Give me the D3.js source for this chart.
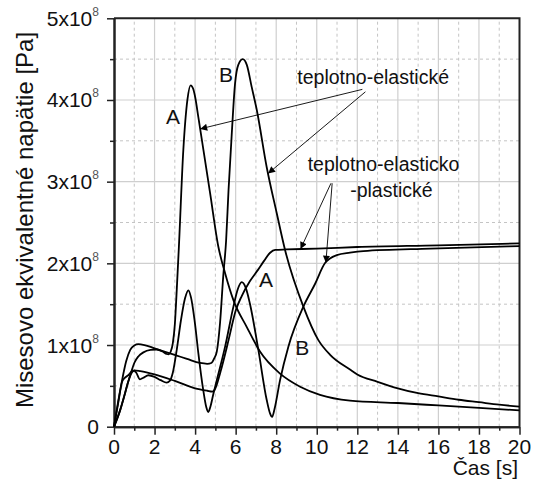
<!DOCTYPE html>
<html><head><meta charset="utf-8">
<script src="https://cdn.jsdelivr.net/npm/d3@7"></script>
<style>
body{margin:0;background:#fff}
svg{display:block}
text{font-family:"Liberation Sans",Arial,sans-serif;fill:#111}
</style>
</head><body>
<svg id="chart" width="539" height="490"></svg>
<script>
// time axis [s] and stress axis [x10^8 Pa]
const xMajor = [0, 2, 4, 6, 8, 10, 12, 14, 16, 18, 20];
const xMinor = [1, 3, 5, 7, 9, 11, 13, 15, 17, 19];
const yMajor = [0, 1, 2, 3, 4, 5];
const yMinor = [0.5, 1.5, 2.5, 3.5, 4.5];
const xLabel = "Čas [s]";
const yLabel = "Misesovo ekvivalentné napätie [Pa]";

// von Mises stress histories, [time s, stress x10^8 Pa]
const elasticA = [[0,0],[0.3,0.2],[0.5,0.37],[0.7,0.55],[0.85,0.67],[1.0,0.78],[1.2,0.86],[1.45,0.91],[1.8,0.94],[2.1,0.945],[2.4,0.92],[2.6,0.89],[2.7,0.885],[2.8,0.92],[2.9,1.02],[3.0,1.25],[3.1,1.7],[3.2,2.2],[3.42,3.39],[3.62,4.0],[3.78,4.18],[3.9,4.14],[4.0,4.04],[4.16,3.79],[4.41,3.39],[4.74,2.86],[5.15,2.2],[5.48,1.88],[5.89,1.55],[6.55,1.22],[7.2,0.92],[8.19,0.65],[9.18,0.49],[10.16,0.39],[11.64,0.32],[14,0.29],[16,0.26],[18,0.23],[20,0.2]];
const elasticB = [[0,0],[0.2,0.3],[0.4,0.57],[0.6,0.8],[0.8,0.94],[1.0,0.995],[1.2,1.01],[1.5,1.0],[2.0,0.96],[2.6,0.91],[3.1,0.87],[3.6,0.83],[4.24,0.78],[4.6,0.77],[4.8,0.78],[4.95,0.84],[5.07,0.92],[5.23,1.27],[5.39,1.85],[5.53,2.28],[5.65,2.9],[5.8,3.55],[5.97,4.2],[6.13,4.43],[6.35,4.5],[6.55,4.43],[6.79,4.16],[7.04,3.88],[7.53,3.18],[8.03,2.61],[8.44,2.16],[9.34,1.47],[10.08,1.06],[10.66,0.88],[11.64,0.7],[12,0.64],[13,0.55],[14,0.47],[15,0.41],[16,0.37],[17,0.33],[18,0.3],[19,0.27],[20,0.245]];
const plasticA = [[0,0],[0.3,0.2],[0.5,0.37],[0.7,0.55],[0.85,0.65],[1.0,0.69],[1.3,0.68],[2.0,0.64],[3.0,0.56],[4.0,0.47],[4.6,0.44],[4.85,0.43],[5.0,0.47],[5.25,0.67],[5.65,1.06],[6.0,1.42],[6.3,1.6],[6.7,1.78],[7.1,1.92],[7.4,2.03],[7.7,2.13],[7.95,2.165],[8.5,2.17],[10,2.18],[12,2.2],[16,2.22],[20,2.245]];
const plasticB = [[0,0],[0.2,0.28],[0.4,0.55],[0.5,0.59],[0.7,0.63],[0.9,0.68],[1.0,0.685],[1.1,0.66],[1.28,0.58],[1.45,0.6],[1.7,0.63],[2.0,0.61],[2.3,0.57],[2.6,0.54],[2.75,0.56],[2.9,0.66],[3.1,0.95],[3.3,1.3],[3.5,1.57],[3.67,1.67],[3.8,1.58],[4.0,1.25],[4.16,0.9],[4.4,0.45],[4.55,0.24],[4.65,0.18],[4.75,0.24],[4.9,0.4],[5.07,0.57],[5.48,0.98],[5.89,1.47],[6.1,1.68],[6.3,1.77],[6.5,1.7],[6.71,1.5],[7.12,0.94],[7.53,0.33],[7.7,0.16],[7.8,0.12],[7.92,0.22],[8.19,0.57],[8.6,0.98],[9.34,1.47],[9.92,1.75],[10.4,2.0],[10.99,2.1],[11.64,2.13],[12.3,2.15],[15.6,2.18],[20,2.21]];

// curve letters and callouts, positioned in data units
const curveLetters = [
  {text: "A", t: 2.91, v: 3.70},
  {text: "B", t: 5.53, v: 4.22},
  {text: "A", t: 7.5, v: 1.71},
  {text: "B", t: 9.28, v: 0.88}
];
const callouts = [
  {lines: ["teplotno-elastické"], t: 9.04, v: 4.2},
  {lines: ["teplotno-elasticko", "-plastické"], t: 9.55, v: 3.13, indent: [0, 2.1]}
];
const arrows = [
  {from: [12.25, 4.13], series: elasticA, at: 4.25},
  {from: [12.4, 4.1], series: elasticB, at: 7.6},
  {from: [10.7, 2.98], series: plasticA, at: 9.2},
  {from: [10.76, 2.98], series: plasticB, at: 10.45}
];

const svg = d3.select("#chart");
const x = d3.scaleLinear().domain([0, 20]).range([114, 519.5]);
const y = d3.scaleLinear().domain([0, 5]).range([426.7, 18.3]);

// grid
const grid = svg.append("g");
grid.selectAll(".gxm").data(xMinor).join("line")
  .attr("x1", d => x(d)).attr("x2", d => x(d)).attr("y1", y(0)).attr("y2", y(5))
  .attr("stroke", "#c4c4c4").attr("stroke-width", 1).attr("stroke-dasharray", "3,3");
grid.selectAll(".gym").data(yMinor).join("line")
  .attr("y1", d => y(d)).attr("y2", d => y(d)).attr("x1", x(0)).attr("x2", x(20))
  .attr("stroke", "#c4c4c4").attr("stroke-width", 1).attr("stroke-dasharray", "3,3");
grid.selectAll(".gx").data(xMajor.slice(1, -1)).join("line")
  .attr("x1", d => x(d)).attr("x2", d => x(d)).attr("y1", y(0)).attr("y2", y(5))
  .attr("stroke", "#cfcfcf").attr("stroke-width", 1.2);
grid.selectAll(".gy").data(yMajor.slice(1, -1)).join("line")
  .attr("y1", d => y(d)).attr("y2", d => y(d)).attr("x1", x(0)).attr("x2", x(20))
  .attr("stroke", "#cfcfcf").attr("stroke-width", 1.2);

// frame (top and right)
svg.append("path")
  .attr("d", `M${x(0)},${y(5)}H${x(20)}V${y(0)}`)
  .attr("fill", "none").attr("stroke", "#222").attr("stroke-width", 2);

// axes
const axisStyle = g => {
  g.select(".domain").attr("stroke", "#222").attr("stroke-width", 2);
  g.selectAll(".tick line").attr("stroke", "#222").attr("stroke-width", 1.5);
  g.selectAll(".tick text").remove();
};
svg.append("g").attr("transform", `translate(0,${y(0)})`)
  .call(d3.axisBottom(x).tickValues(xMinor).tickSize(4).tickSizeOuter(0)).call(axisStyle);
svg.append("g").attr("transform", `translate(0,${y(0)})`)
  .call(d3.axisBottom(x).tickValues(xMajor).tickSize(8).tickSizeOuter(0)).call(axisStyle);
svg.append("g").attr("transform", `translate(${x(0)},0)`)
  .call(d3.axisLeft(y).tickValues(yMinor).tickSize(4).tickSizeOuter(0)).call(axisStyle);
svg.append("g").attr("transform", `translate(${x(0)},0)`)
  .call(d3.axisLeft(y).tickValues(yMajor).tickSize(7).tickSizeOuter(0)).call(axisStyle);

// tick labels
svg.append("g").selectAll("text").data(xMajor).join("text")
  .attr("x", d => x(d)).attr("y", 454).attr("text-anchor", "middle")
  .attr("font-size", 21).text(d => d);
const yl = svg.append("g").selectAll("text").data(yMajor).join("text")
  .attr("x", 99).attr("y", d => y(d) + 7.5).attr("text-anchor", "end")
  .attr("font-size", 21);
yl.each(function(d) {
  const t = d3.select(this);
  if (d === 0) { t.text("0"); return; }
  t.append("tspan").text(d + "x10");
  t.append("tspan").attr("font-size", 12).attr("dy", -10).style("fill", "#555").text("8");
});

// axis titles
svg.append("text").attr("x", 518).attr("y", 475).attr("text-anchor", "end")
  .attr("font-size", 21).text(xLabel);
svg.append("text").attr("transform", `translate(33,220) rotate(-90)`)
  .attr("text-anchor", "middle").attr("font-size", 24).text(yLabel);

// curves
const line = d3.line().x(d => x(d[0])).y(d => y(d[1])).curve(d3.curveMonotoneX);
svg.append("g").selectAll("path").data([elasticA, elasticB, plasticA, plasticB]).join("path")
  .attr("d", line).attr("fill", "none").attr("stroke", "#000").attr("stroke-width", 1.8)
  .attr("stroke-linejoin", "round");

// letters
svg.append("g").selectAll("text").data(curveLetters).join("text")
  .attr("x", d => x(d.t)).attr("y", d => y(d.v)).attr("text-anchor", "middle")
  .attr("font-size", 21).text(d => d.text);

// callout texts
callouts.forEach(c => {
  c.lines.forEach((s, i) => {
    svg.append("text")
      .attr("x", x(c.t + (c.indent ? c.indent[i] : 0)))
      .attr("y", y(c.v) + i * 26)
      .attr("font-size", 19.5).text(s);
  });
});

// arrows pointing at the curves
svg.append("defs").append("marker").attr("id", "head")
  .attr("viewBox", "0 0 10 10").attr("refX", 10).attr("refY", 5)
  .attr("markerWidth", 9).attr("markerHeight", 7).attr("markerUnits", "userSpaceOnUse")
  .attr("orient", "auto")
  .append("path").attr("d", "M0,0L10,5L0,10Z").attr("fill", "#000");
const valueAt = (s, t) => {
  const i = d3.bisector(d => d[0]).left(s, t);
  const a = s[Math.max(0, i - 1)], b = s[Math.min(s.length - 1, i)];
  const k = b[0] === a[0] ? 0 : (t - a[0]) / (b[0] - a[0]);
  return a[1] + k * (b[1] - a[1]);
};
svg.append("g").selectAll("line").data(arrows).join("line")
  .attr("x1", d => x(d.from[0])).attr("y1", d => y(d.from[1]))
  .attr("x2", d => x(d.at)).attr("y2", d => y(valueAt(d.series, d.at)))
  .attr("stroke", "#000").attr("stroke-width", 0.9).attr("marker-end", "url(#head)");
</script>
</body></html>
